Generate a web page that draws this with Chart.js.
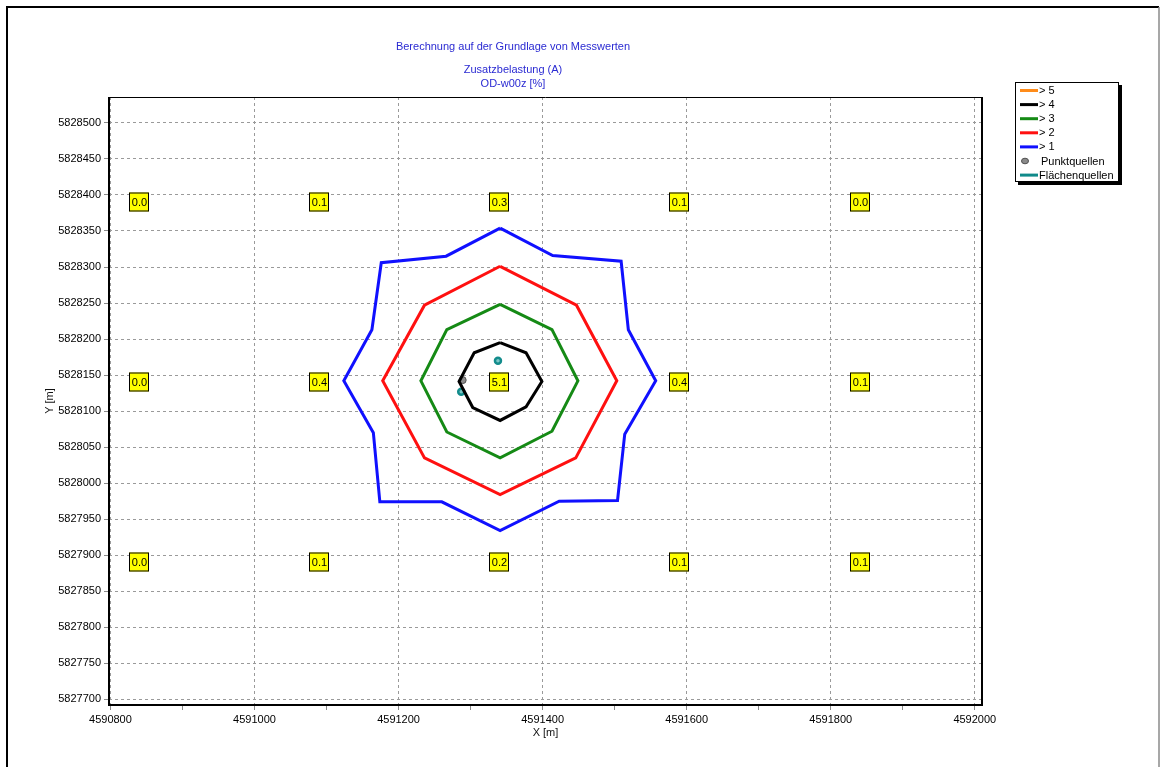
<!DOCTYPE html>
<html>
<head>
<meta charset="utf-8">
<script src="https://cdn.jsdelivr.net/npm/chart.js@4.4.1/dist/chart.umd.min.js"></script>
<style>
  html, body { margin: 0; padding: 0; background: #ffffff; }
  #wrap { width: 1165px; height: 767px; position: relative; }
</style>
</head>
<body>
<div id="wrap"><canvas id="c" width="1165" height="767"></canvas></div>
<script>
// Axis extent (Gauss-Krüger coordinates, metres)
const xRange = [4590798, 4592010];
const yRange = [5827692, 5828536];

// Tick positions: x every 100 m (labelled every 200 m), y every 50 m
const xTickValues = [4590800, 4590900, 4591000, 4591100, 4591200, 4591300, 4591400,
                     4591500, 4591600, 4591700, 4591800, 4591900, 4592000];
const yTickValues = [5827700, 5827750, 5827800, 5827850, 5827900, 5827950, 5828000,
                     5828050, 5828100, 5828150, 5828200, 5828250, 5828300, 5828350,
                     5828400, 5828450, 5828500];

// Isolines of the additional load (x, y pairs, closed rings)
const isoGt5 = [];
const isoGt4 = [
  [4591341, 5828195], [4591377, 5828181], [4591399, 5828141], [4591377, 5828106],
  [4591341, 5828087], [4591303, 5828105], [4591284, 5828141], [4591305, 5828181],
  [4591341, 5828195]
];
const isoGt3 = [
  [4591341, 5828248], [4591413, 5828213], [4591449, 5828142], [4591413, 5828072],
  [4591341, 5828035], [4591267, 5828071], [4591231, 5828142], [4591267, 5828213],
  [4591341, 5828248]
];
const isoGt2 = [
  [4591341, 5828301], [4591447, 5828247], [4591503, 5828142], [4591446, 5828035],
  [4591341, 5827984], [4591236, 5828035], [4591178, 5828142], [4591236, 5828247],
  [4591341, 5828301]
];
const isoGt1 = [
  [4591341, 5828354], [4591414, 5828316], [4591509, 5828308], [4591519, 5828213],
  [4591557, 5828142], [4591514, 5828068], [4591504, 5827976], [4591423, 5827975],
  [4591341, 5827934], [4591260, 5827974], [4591174, 5827974], [4591165, 5828070],
  [4591124, 5828142], [4591163, 5828213], [4591176, 5828306], [4591266, 5828315],
  [4591341, 5828354]
];

// Sources
const pointSources = [[4591289, 5828143]];
const areaSources = [[4591338, 5828170], [4591287, 5828127]];

// Grid of receptor values [%]
const labelX = [4590840, 4591090, 4591340, 4591590, 4591840];
const labelY = [5828390, 5828140, 5827890];
const labelValues = [
  [0.0, 0.1, 0.3, 0.1, 0.0],
  [0.0, 0.4, 5.1, 0.4, 0.1],
  [0.0, 0.1, 0.2, 0.1, 0.1]
];

const titleLines = [
  'Berechnung auf der Grundlage von Messwerten',
  'Zusatzbelastung (A)',
  'OD-w00z [%]'
];

const FONT = '"Liberation Sans", Arial, sans-serif';
const toXY = arr => arr.map(p => ({ x: p[0], y: p[1] }));

function isoDataset(label, color, pts) {
  return {
    label: label, data: toXY(pts), showLine: true, fill: false,
    borderColor: color, backgroundColor: color, borderWidth: 3,
    pointRadius: 0, tension: 0, legendKind: 'line'
  };
}

const datasets = [
  isoDataset('> 5', '#ff8c1a', isoGt5),
  isoDataset('> 4', '#000000', isoGt4),
  isoDataset('> 3', '#158a15', isoGt3),
  isoDataset('> 2', '#ff1010', isoGt2),
  isoDataset('> 1', '#1010ff', isoGt1),
  {
    label: 'Punktquellen', data: toXY(pointSources), showLine: false,
    pointRadius: 3.5, pointBackgroundColor: '#8a8a8a', pointBorderColor: '#505050',
    pointBorderWidth: 1, borderColor: '#505050', backgroundColor: '#8a8a8a', legendKind: 'point'
  },
  {
    label: 'Flächenquellen', data: toXY(areaSources), showLine: false,
    pointRadius: 3, pointBackgroundColor: '#7cc6c6', pointBorderColor: '#138c8c',
    pointBorderWidth: 2.5, borderColor: '#108a8a', backgroundColor: '#108a8a', legendKind: 'line'
  }
];

// Outer page frame
const framePlugin = {
  id: 'pageFrame',
  beforeDraw(chart) {
    const ctx = chart.ctx;
    ctx.save();
    ctx.fillStyle = '#ffffff';
    ctx.fillRect(0, 0, chart.width, chart.height);
    ctx.lineWidth = 2;
    ctx.strokeStyle = '#000000';
    ctx.beginPath();
    ctx.moveTo(7, 767); ctx.lineTo(7, 7); ctx.lineTo(1159, 7);
    ctx.stroke();
    ctx.lineWidth = 1.5;
    ctx.strokeStyle = '#8a8a8a';
    ctx.beginPath();
    ctx.moveTo(1159, 7); ctx.lineTo(1159, 767);
    ctx.stroke();
    ctx.restore();
  }
};

// Value boxes on the receptor grid
const labelPlugin = {
  id: 'valueBoxes',
  afterDatasetsDraw(chart) {
    const ctx = chart.ctx;
    const xs = chart.scales.x, ys = chart.scales.y;
    ctx.save();
    ctx.font = '11px ' + FONT;
    ctx.textAlign = 'center';
    ctx.textBaseline = 'middle';
    labelY.forEach((yv, r) => {
      labelX.forEach((xv, c) => {
        const px = Math.round(xs.getPixelForValue(xv));
        const py = Math.round(ys.getPixelForValue(yv));
        const w = 20, h = 19;
        ctx.fillStyle = '#ffff00';
        ctx.fillRect(px - w / 2, py - h / 2, w, h);
        ctx.strokeStyle = '#000000';
        ctx.lineWidth = 1;
        ctx.strokeRect(px - w / 2 + 0.5, py - h / 2 + 0.5, w - 1, h - 1);
        ctx.fillStyle = '#000000';
        ctx.fillText(labelValues[r][c].toFixed(1), px + 0.5, py + 1);
      });
    });
    ctx.restore();
  }
};

// Plot border, titles and legend box
const decorPlugin = {
  id: 'decor',
  afterDraw(chart) {
    const ctx = chart.ctx;
    const a = chart.chartArea;
    ctx.save();
    // plot border
    ctx.strokeStyle = '#000000';
    ctx.lineWidth = 1;
    ctx.beginPath();
    ctx.moveTo(a.left, a.top + 0.5); ctx.lineTo(a.right, a.top + 0.5);
    ctx.stroke();
    ctx.lineWidth = 2;
    ctx.beginPath();
    ctx.moveTo(a.left, a.top); ctx.lineTo(a.left, a.bottom);
    ctx.lineTo(a.right, a.bottom); ctx.lineTo(a.right, a.top);
    ctx.stroke();

    // titles
    ctx.font = '11px ' + FONT;
    ctx.fillStyle = '#2a2ad2';
    ctx.textAlign = 'center';
    ctx.textBaseline = 'middle';
    ctx.fillText(titleLines[0], 513, 47);
    ctx.fillText(titleLines[1], 513, 70);
    ctx.fillText(titleLines[2], 513, 84);

    // legend
    const bx = 1015, by = 82, bw = 104, bh = 100;
    ctx.fillStyle = '#000000';
    ctx.fillRect(bx + 3, by + 3, bw, bh);
    ctx.fillStyle = '#ffffff';
    ctx.fillRect(bx, by, bw, bh);
    ctx.strokeStyle = '#000000';
    ctx.lineWidth = 1;
    ctx.strokeRect(bx + 0.5, by + 0.5, bw - 1, bh - 1);
    ctx.textAlign = 'left';
    ctx.font = '11px ' + FONT;
    chart.data.datasets.forEach((ds, i) => {
      const y = 90.5 + i * 14.1;
      if (ds.legendKind === 'point') {
        ctx.beginPath();
        ctx.ellipse(1025, y, 3.5, 2.8, 0, 0, Math.PI * 2);
        ctx.fillStyle = ds.pointBackgroundColor;
        ctx.fill();
        ctx.strokeStyle = ds.pointBorderColor;
        ctx.lineWidth = 1;
        ctx.stroke();
        ctx.fillStyle = '#000000';
        ctx.fillText(ds.label, 1041, y + 0.5);
      } else {
        ctx.strokeStyle = ds.borderColor;
        ctx.lineWidth = 3;
        ctx.beginPath();
        ctx.moveTo(1020, y); ctx.lineTo(1038, y);
        ctx.stroke();
        ctx.fillStyle = '#000000';
        ctx.fillText(ds.label, 1039, y + 0.5);
      }
    });
    ctx.restore();
  }
};

const tickFont = { family: FONT, size: 11 };

new Chart(document.getElementById('c'), {
  type: 'scatter',
  data: { datasets: datasets },
  plugins: [framePlugin, labelPlugin, decorPlugin],
  options: {
    responsive: false,
    animation: false,
    events: [],
    layout: { padding: { left: 0, top: 97, right: 183, bottom: 27 } },
    plugins: { legend: { display: false }, tooltip: { enabled: false }, title: { display: false } },
    scales: {
      x: {
        type: 'linear', min: xRange[0], max: xRange[1],
        afterBuildTicks: s => { s.ticks = xTickValues.map(v => ({ value: v })); },
        afterFit: s => { s.height = 35; },
        ticks: {
          autoSkip: false, maxRotation: 0, minRotation: 0, padding: 3,
          color: '#000000', font: tickFont,
          callback: v => (v % 200 === 0 ? String(v) : '')
        },
        grid: {
          color: c => (c.tick && c.tick.value % 200 === 0 ? '#9a9a9a' : 'rgba(0,0,0,0)'),
          tickColor: '#8a8a8a', tickLength: 5, lineWidth: 1
        },
        border: { display: false, dash: [3, 3] },
        title: { display: true, text: 'X [m]', color: '#111111', font: tickFont, padding: { top: 0, bottom: 0 } }
      },
      y: {
        type: 'linear', min: yRange[0], max: yRange[1],
        afterBuildTicks: s => { s.ticks = yTickValues.map(v => ({ value: v })); },
        afterFit: s => { s.width = 109; },
        ticks: {
          autoSkip: false, padding: 3, color: '#000000', font: tickFont,
          callback: v => String(v)
        },
        grid: { color: '#9a9a9a', tickColor: '#8a8a8a', tickLength: 5, lineWidth: 1 },
        border: { display: false, dash: [3, 3] },
        title: { display: true, text: 'Y [m]', color: '#111111', font: tickFont, padding: { top: 43, bottom: 0 } }
      }
    }
  }
});
</script>
</body>
</html>
